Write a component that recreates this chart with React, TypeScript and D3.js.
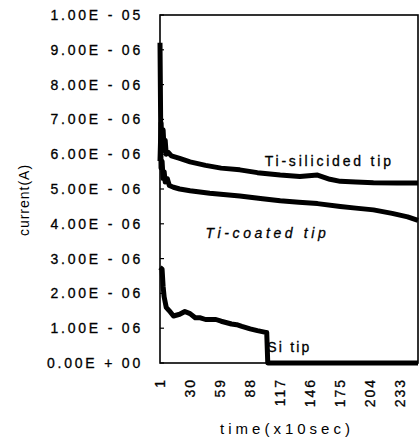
import React, { useEffect, useRef } from 'react'
import * as d3 from 'd3'

// values in units of 1e-6 A, time index in (x10 sec)
const siliTime = [1, 2, 3, 4, 5, 6, 7, 9, 12, 20, 30, 45, 60, 78, 95, 117, 136, 153, 165, 175, 190, 207, 230, 250]
const siliVals = [5.8, 6.9, 6.2, 6.7, 6.1, 6.4, 6.0, 6.05, 5.95, 5.88, 5.78, 5.68, 5.6, 5.55, 5.47, 5.4, 5.36, 5.4, 5.28, 5.22, 5.2, 5.18, 5.17, 5.17]

const coatTime = [1, 2, 3, 4, 5, 6, 8, 10, 14, 20, 30, 49, 78, 100, 117, 135, 153, 175, 190, 207, 225, 240, 250]
const coatVals = [9.2, 5.6, 5.8, 5.3, 5.5, 5.2, 5.3, 5.1, 5.05, 5.0, 4.95, 4.88, 4.8, 4.72, 4.66, 4.62, 4.58, 4.5, 4.45, 4.4, 4.3, 4.2, 4.1]

const siTime = [1, 3, 4, 5, 7, 10, 14, 20, 25, 30, 35, 40, 45, 55, 60, 70, 75, 80, 88, 95, 103, 104, 105, 150, 200, 250]
const siVals = [2.75, 2.7, 2.2, 1.9, 1.6, 1.5, 1.35, 1.4, 1.48, 1.42, 1.3, 1.3, 1.25, 1.25, 1.2, 1.12, 1.1, 1.05, 0.98, 0.93, 0.88, 0.88, 0, 0, 0, 0]

const yTicks = [0, 1, 2, 3, 4, 5, 6, 7, 8, 9, 10]
const yTickLabels = ['0.00E+00', '1.00E-06', '2.00E-06', '3.00E-06', '4.00E-06', '5.00E-06',
  '6.00E-06', '7.00E-06', '8.00E-06', '9.00E-06', '1.00E-05']
const xTicks = [1, 30, 59, 88, 117, 146, 175, 204, 233]

const seriesLabels = [
  { name: 'Ti-silicided tip', t: 102, v: 5.65, italic: false, sp: 2.8 },
  { name: 'Ti-coated tip', t: 45, v: 3.6, italic: true, sp: 3.6 },
  { name: 'Si tip', t: 104.5, v: 0.32, italic: false, sp: 2.2 },
]

const App = () => {
  const ref = useRef(null)

  useEffect(() => {
    const font = 'Arial, "Liberation Sans", Helvetica, sans-serif'
    const svg = d3.select(ref.current)
    svg.selectAll('*').remove()

    const x = d3.scaleLinear().domain([1, 250]).range([160, 418])
    const y = d3.scaleLinear().domain([0, 10]).range([363, 15])

    // frame
    svg.append('rect')
      .attr('x', 160).attr('y', 15)
      .attr('width', 258).attr('height', 348)
      .attr('fill', 'none').attr('stroke', '#000').attr('stroke-width', 1.6)

    // y ticks (inside) and labels
    const yg = svg.append('g')
    yg.selectAll('line').data(yTicks).enter().append('line')
      .attr('x1', 160).attr('x2', 164)
      .attr('y1', d => y(d)).attr('y2', d => y(d))
      .attr('stroke', '#000').attr('stroke-width', 1.2)
    yg.selectAll('text').data(yTicks).enter().append('text')
      .attr('x', 143).attr('y', d => y(d))
      .attr('dy', '0.36em')
      .attr('text-anchor', 'end')
      .attr('font-family', font).attr('font-size', 14)
      .attr('letter-spacing', 2.8)
      .attr('fill', '#000')
      .attr('stroke', '#000').attr('stroke-width', 0.3)
      .text((d, i) => yTickLabels[i].replace('E-', 'E - ').replace('E+', 'E + '))

    // x tick labels, rotated
    svg.append('g').selectAll('text').data(xTicks).enter().append('text')
      .attr('transform', d => `translate(${x(d)},378) rotate(-90)`)
      .attr('dy', '0.36em')
      .attr('text-anchor', 'end')
      .attr('font-family', font).attr('font-size', 14)
      .attr('letter-spacing', 2)
      .attr('fill', '#000')
      .attr('stroke', '#000').attr('stroke-width', 0.3)
      .text(d => d)

    // axis titles
    svg.append('text')
      .attr('x', 287).attr('y', 434)
      .attr('text-anchor', 'middle')
      .attr('font-family', font).attr('font-size', 15)
      .attr('letter-spacing', 4)
      .text('time(x10sec)')
    svg.append('text')
      .attr('transform', 'translate(29,200) rotate(-90)')
      .attr('text-anchor', 'middle')
      .attr('font-family', font).attr('font-size', 14)
      .attr('letter-spacing', 1)
      .text('current(A)')

    const line = d3.line<[number, number]>()
      .x(d => x(d[0]))
      .y(d => y(d[1]))

    const series = [
      d3.zip(siliTime, siliVals),
      d3.zip(coatTime, coatVals),
      d3.zip(siTime, siVals),
    ]
    svg.append('g').selectAll('path').data(series).enter().append('path')
      .attr('d', d => line(d as [number, number][]))
      .attr('fill', 'none')
      .attr('stroke', '#000')
      .attr('stroke-width', 5)
      .attr('stroke-linejoin', 'round')

    svg.append('g').selectAll('text').data(seriesLabels).enter().append('text')
      .attr('x', d => x(d.t)).attr('y', d => y(d.v))
      .attr('font-family', font).attr('font-size', 14)
      .attr('font-style', d => d.italic ? 'italic' : 'normal')
      .attr('letter-spacing', d => d.sp)
      .attr('fill', '#000')
      .attr('stroke', '#000').attr('stroke-width', 0.3)
      .text(d => d.name)
  }, [])

  return (
    <svg ref={ref} width={420} height={443}
      style={{ position: 'absolute', left: 0, top: 0, background: '#fff' }} />
  )
}

export default App
